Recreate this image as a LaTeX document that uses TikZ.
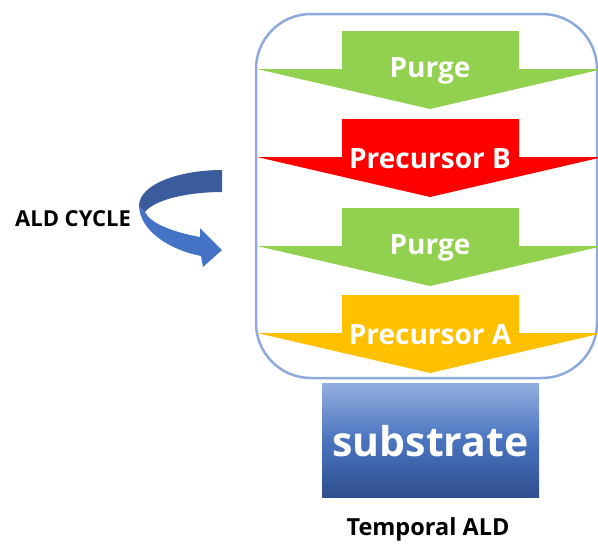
\documentclass[tikz,border=0pt]{standalone}
\usepackage{fontspec}
\setmainfont{Open Sans}
\usepackage{tikz}
\usetikzlibrary{positioning}

\definecolor{boxblue}{HTML}{8FAADC}
\definecolor{purgegreen}{HTML}{92D050}
\definecolor{precred}{HTML}{FF0000}
\definecolor{precorange}{HTML}{FFC000}
\definecolor{cycdark}{HTML}{3A5C9C}
\definecolor{cyclight}{HTML}{4472C4}
\definecolor{subtop}{HTML}{93AEDE}
\definecolor{submid}{HTML}{4A74C0}
\definecolor{subbot}{HTML}{2F4F8F}

\tikzset{
  steplabel/.style={text=white, font=\bfseries\fontsize{28}{31}\selectfont, inner sep=0pt},
  blacklabel/.style={text=black, font=\bfseries\fontsize{22}{25}\selectfont, inner sep=0pt},
}

% one block arrow of the cycle: #1 top y, #2 colour, #3 node name, #4 text
\newcommand{\cyclearrow}[4]{%
  \fill[#2] (342,#1) -- (519,#1) -- (519,#1+38) -- (603,#1+38)
            -- (430,#1+78) -- (257,#1+38) -- (342,#1+38) -- cycle;
  \node[steplabel] (#3) at (430,#1+40) {#4};
}

\begin{document}
\begin{tikzpicture}[x=1pt,y=-1pt]
            \useasboundingbox (0,0) rectangle (598,546);

            % the cycle box
            \draw[boxblue, line width=2.5pt, rounded corners=55pt] (256,14) rectangle (597,378);

            \cyclearrow{31}{purgegreen}{purgeone}{Purge}
            \cyclearrow{119}{precred}{precb}{Precursor B}
            \cyclearrow{208}{purgegreen}{purgetwo}{Purge}
            \cyclearrow{295}{precorange}{preca}{Precursor A}

            % substrate
            \shade[top color=subtop, bottom color=subbot, middle color=submid]
                (322,383) rectangle (539,497);
            \node[text=white, font=\bfseries\fontsize{41}{45}\selectfont, inner sep=0pt]
                (sub) at (430.5,441) {substrate};
            \node[blacklabel, font=\bfseries\fontsize{23.5}{26}\selectfont]
                (temporal) at (428,529) {Temporal ALD};

            % the curved cycle arrow
            \fill[cycdark] (222,170) .. controls (180,170) and (139,184) .. (139,206)
                -- (145,212) .. controls (155,199) and (190,192) .. (222,192) -- cycle;
            \fill[cyclight] (139,206) .. controls (140,231) and (170,250) .. (201,256)
                -- (203,267) -- (222,250) -- (200,228) -- (200,237)
                .. controls (172,232) and (150,223) .. (145,212) -- cycle;
            \node[blacklabel] (cycle) at (73,219) {ALD CYCLE};

            \end{tikzpicture}
\end{document}
